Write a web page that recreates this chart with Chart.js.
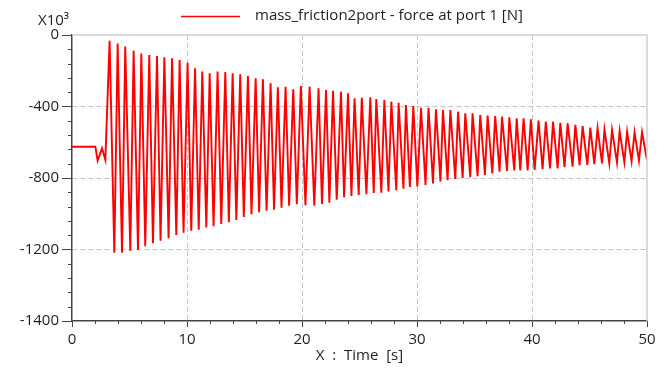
<!DOCTYPE html>
<html><head><meta charset="utf-8">
<script src="https://cdn.jsdelivr.net/npm/chart.js@4.4.0/dist/chart.umd.min.js"></script>
<style>html,body{margin:0;padding:0;background:#fff;}canvas{display:block;}</style>
</head><body>
<canvas id="c" width="663" height="370"></canvas>
<script>
const seriesLabel = 'mass_friction2port - force at port 1 [N]';
const yUnitLabel = 'X10³';
const xTitle = 'X  :  Time  [s]';
const xTickLabels = ['0','10','20','30','40','50'];
const yTickLabels = ['0','-400','-800','-1200','-1400'];

const startTimes = [0, 2.03, 2.23, 2.61, 2.90];
const startValues = [-625, -625, -703, -634, -699];

const peakTimes = [3.27,3.97,4.63,5.36,6.03,6.72,7.39,8.03,8.70,9.36,10.05,10.70,
  11.33,11.97,12.66,13.33,13.97,14.63,15.30,15.97,16.60,17.27,17.90,18.57,19.24,19.90,20.66,
  21.44,22.09,22.70,23.39,24.00,24.57,25.20,25.94,26.46,27.16,27.77,28.40,29.04,29.68,
  30.35,31.00,31.65,32.26,32.90,33.57,34.20,34.83,35.50,36.14,36.80,37.39,38.03,38.67,
  39.27,39.90,40.57,41.20,41.83,42.46,43.10,43.77,44.40,45.07,45.70,46.30,46.96,47.62,48.27,48.92,49.57];
const peakValues = [-32,-47,-65,-88,-103,-112,-117,-125,-130,-140,-155,-186,
  -205,-214,-205,-207,-214,-220,-229,-242,-248,-270,-293,-289,-304,-285,-289,
  -298,-308,-312,-317,-326,-354,-351,-348,-358,-364,-373,-379,-392,-398,
  -407,-407,-416,-420,-420,-429,-438,-438,-448,-451,-453,-457,-460,-466,
  -466,-472,-479,-485,-485,-491,-494,-503,-509,-518,-522,-528,-531,-537,-541,-544,-544];

const troughTimes = [3.68,4.35,5.07,5.74,6.37,7.04,7.70,8.40,9.07,9.70,10.37,11.02,
  11.68,12.31,12.98,13.64,14.29,14.94,15.61,16.27,16.92,17.57,18.22,18.88,19.55,20.30,21.07,
  21.74,22.38,23.02,23.66,24.30,24.93,25.60,26.24,26.90,27.52,28.20,28.82,29.38,30.03,
  30.74,31.39,32.04,32.66,33.33,33.97,34.63,35.27,35.91,36.55,37.18,37.83,38.46,
  38.98,39.62,40.23,40.92,41.57,42.23,42.83,43.53,44.14,44.81,45.42,46.09,46.72,47.39,48.03,48.66,49.30,50.00];
const troughValues = [-1218,-1218,-1207,-1203,-1182,-1165,-1151,-1137,-1119,-1106,-1095,-1090,
  -1077,-1070,-1057,-1048,-1035,-1018,-1003,-992,-983,-978,-966,-955,-946,-952,-955,
  -945,-938,-921,-908,-901,-895,-890,-884,-882,-875,-868,-860,-850,
  -848,-839,-830,-820,-812,-806,-800,-795,-790,-783,-774,-765,-760,-758,
  -758,-757,-755,-751,-746,-746,-740,-737,-728,-727,-722,-718,-718,-714,-712,-706,-703,-700];

const points = [];
for (let i = 0; i < startTimes.length; i++) points.push({x: startTimes[i], y: startValues[i]});
for (let i = 0; i < peakTimes.length; i++) {
  points.push({x: peakTimes[i], y: peakValues[i]});
  points.push({x: troughTimes[i], y: troughValues[i]});
}

const FONT = "'Open Sans', 'DejaVu Sans', sans-serif";
const TEXT = '#1e1e1e';
const AXIS = '#444';
const GRID = '#c4c4c4';

const decor = {
  id: 'decor',
  afterDraw(chart) {
    const {ctx, chartArea: a, scales: {x, y}} = chart;
    ctx.save();
    ctx.strokeStyle = '#d0d0d0'; ctx.lineWidth = 1.5; ctx.setLineDash([]);
    ctx.beginPath(); ctx.moveTo(a.left, a.top); ctx.lineTo(a.right, a.top); ctx.lineTo(a.right, a.bottom); ctx.stroke();
    ctx.strokeStyle = AXIS; ctx.lineWidth = 1;
    ctx.beginPath();
    for (let v = 2; v < 50; v += 2) {
      if (v % 10 === 0) continue;
      const px = Math.round(x.getPixelForValue(v)) + 0.5;
      ctx.moveTo(px, a.bottom); ctx.lineTo(px, a.bottom + 3);
    }
    for (let v = -80; v > -1600; v -= 80) {
      if (v % 400 === 0) continue;
      const py = Math.round(y.getPixelForValue(v)) + 0.5;
      ctx.moveTo(a.left, py); ctx.lineTo(a.left - 4, py);
    }
    ctx.stroke();
    ctx.strokeStyle = '#ff0000'; ctx.lineWidth = 1.5;
    ctx.beginPath(); ctx.moveTo(181, 16.5); ctx.lineTo(240, 16.5); ctx.stroke();
    ctx.fillStyle = TEXT; ctx.font = '15px ' + FONT; ctx.textBaseline = 'middle'; ctx.textAlign = 'left';
    ctx.fillText(seriesLabel, 255, 16);
    ctx.fillText(yUnitLabel, 38, 21);
    ctx.restore();
  }
};

new Chart(document.getElementById('c'), {
  type: 'line',
  data: { datasets: [{
    label: seriesLabel,
    data: points,
    borderColor: '#ff0000',
    borderWidth: 1.9,
    pointRadius: 0,
    tension: 0,
    fill: false
  }]},
  options: {
    responsive: false,
    animation: false,
    devicePixelRatio: 1,
    layout: { padding: { left: 10, right: 16, top: 35, bottom: 0 } },
    plugins: { legend: { display: false }, tooltip: { enabled: false } },
    scales: {
      x: {
        type: 'linear', min: 0, max: 50,
        afterFit(s) { s.height = 49; },
        ticks: { stepSize: 10, color: TEXT, font: { family: FONT, size: 15 }, padding: 4,
          maxRotation: 0, autoSkip: false,
          callback: (v) => xTickLabels[Math.round(v / 10)] },
        grid: {
          color: (c) => (c.tick && (c.tick.value === 0 || c.tick.value === 50)) ? 'rgba(0,0,0,0)' : GRID,
          lineWidth: 1, tickColor: AXIS, tickLength: 6, tickWidth: 1
        },
        border: { display: true, color: AXIS, width: 1.5, dash: [5, 3] },
        title: { display: true, text: xTitle, color: TEXT, font: { family: FONT, size: 15 }, padding: { top: 0, bottom: 5 } }
      },
      y: {
        type: 'linear', min: -1600, max: 0,
        afterFit(s) { s.width = 62; },
        ticks: { stepSize: 400, color: TEXT, font: { family: FONT, size: 15 }, padding: 3,
          callback: (v) => yTickLabels[Math.round(-v / 400)] },
        grid: {
          color: (c) => (c.tick && (c.tick.value === 0 || c.tick.value === -1600)) ? 'rgba(0,0,0,0)' : GRID,
          lineWidth: 1, tickColor: AXIS, tickLength: 10, tickWidth: 1
        },
        border: { display: true, color: AXIS, width: 1.5, dash: [5, 3] }
      }
    }
  },
  plugins: [decor]
});
</script>
</body></html>
